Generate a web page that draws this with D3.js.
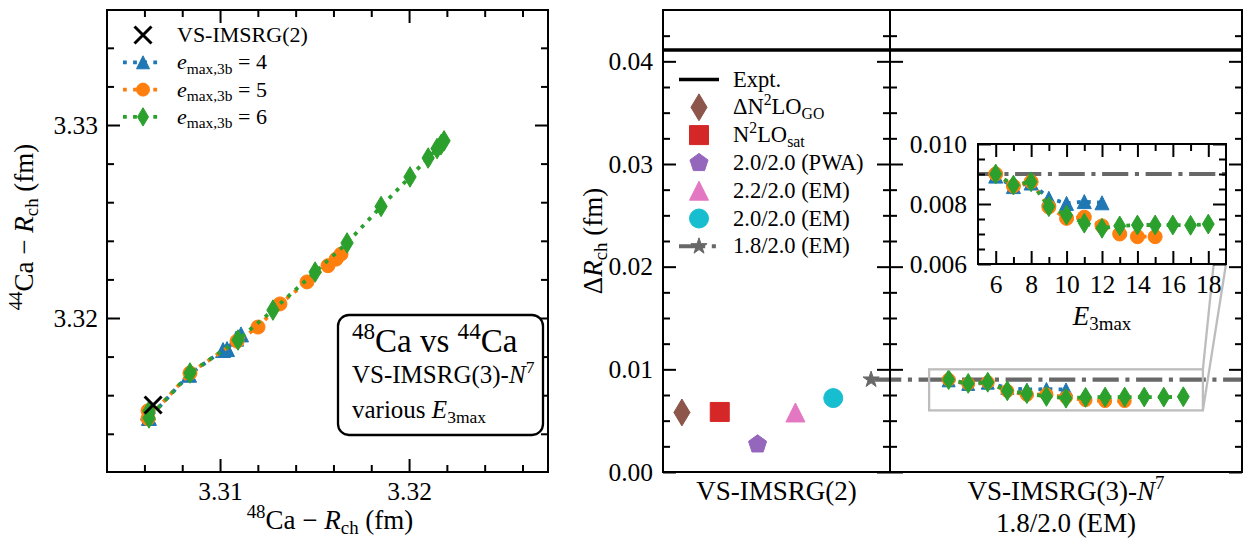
<!DOCTYPE html>
<html>
<head>
<meta charset="utf-8">
<script src="https://cdn.jsdelivr.net/npm/d3@7/dist/d3.min.js"></script>
<style>
  html, body { margin: 0; padding: 0; background: #fff; }
  svg text { font-family: "Liberation Serif", "Times New Roman", serif; fill: #000; }
</style>
</head>
<body>
<svg id="fig" width="1243" height="540"></svg>
<script>
// ---------------- data ----------------
// E3max values for the three emax,3b truncations
const e3maxB4 = [6, 7, 8, 9, 10, 11, 12];
const e3maxB5 = [6, 7, 8, 9, 10, 11, 12, 13, 14, 15];
const e3maxB6 = [6, 7, 8, 9, 10, 11, 12, 13, 14, 15, 16, 17, 18];

// charge radii (fm) of 48Ca and 44Ca, VS-IMSRG(3)-N7, 1.8/2.0 (EM)
const r48B4 = [3.30619, 3.30624, 3.30836, 3.31016, 3.31037, 3.31085, 3.31111];
const r44B4 = [3.31510, 3.31482, 3.31706, 3.31834, 3.31839, 3.31893, 3.31915];
const r48B5 = [3.30619, 3.30619, 3.30841, 3.31090, 3.31201, 3.31317, 3.31460, 3.31571, 3.31614, 3.31640];
const r44B5 = [3.31519, 3.31479, 3.31715, 3.31880, 3.31953, 3.32073, 3.32187, 3.32271, 3.32305, 3.32331];
const r48B6 = [3.30624, 3.30624, 3.30841, 3.31095, 3.31280, 3.31503, 3.31672, 3.31852, 3.32005, 3.32101, 3.32148, 3.32169, 3.32185];
const r44B6 = [3.31518, 3.31482, 3.31715, 3.31886, 3.32041, 3.32238, 3.32389, 3.32578, 3.32731, 3.32829, 3.32878, 3.32898, 3.32918];

// VS-IMSRG(2) reference point
const imsrg2R48 = 3.30646;
const imsrg2R44 = 3.31549;

// radius differences Delta R_ch (fm) vs E3max
const dRB4 = [0.00893, 0.00858, 0.00870, 0.00819, 0.00802, 0.00808, 0.00804];
const dRB5 = [0.00900, 0.00860, 0.00874, 0.00790, 0.00752, 0.00756, 0.00727, 0.00700, 0.00691, 0.00691];
const dRB6 = [0.00900, 0.00863, 0.00874, 0.00791, 0.00763, 0.00736, 0.00719, 0.00727, 0.00730, 0.00730, 0.00730, 0.00729, 0.00733];

// VS-IMSRG(2) results for the different interactions
const interactions = ["\u0394N2LO_GO", "N2LO_sat", "2.0/2.0 (PWA)", "2.2/2.0 (EM)", "2.0/2.0 (EM)", "1.8/2.0 (EM)"];
const imsrg2DR = [0.0058, 0.00585, 0.0027, 0.0058, 0.0072, 0.0090];
const exptDR = 0.0411;

// tick values
const ticksXA = [3.31, 3.32];
const ticksYA = [3.32, 3.33];
const ticksYR = [0, 0.01, 0.02, 0.03, 0.04];
const ticksXI = [6, 8, 10, 12, 14, 16, 18];
const ticksYI = [0.006, 0.008, 0.010];

// ---------------- setup ----------------
const svg = d3.select("#fig");
const FS = 25.5;      // tick labels
const AFS = 27;       // axis labels
const TMAJ = 13, TMIN = 7;
const col = {
  blue: "#1f77b4", orange: "#ff7f0e", green: "#2ca02c", brown: "#8c564b",
  red: "#d62728", purple: "#9467bd", pink: "#e377c2", cyan: "#17becf", grey: "#686868"
};

// scales
const xA = d3.scaleLinear().domain([3.30402, 3.32735]).range([107, 548]);
const yA = d3.scaleLinear().domain([3.31202, 3.33596]).range([472, 10]);
const xB = d3.scaleLinear().domain([0.5, 6.5]).range([663, 890]);
const yR = d3.scaleLinear().domain([0, 0.045]).range([472, 10]);
const xC = d3.scaleLinear().domain([3, 21]).range([890, 1242]);
const xI = d3.scaleLinear().domain([5, 19]).range([978, 1226]);
const yI = d3.scaleLinear().domain([0.006, 0.010]).range([264, 144]);

// ---------------- helpers ----------------
function mathText(g, x, y, parts, fs, anchor, rotate) {
  const t = g.append("text").attr("font-size", fs).attr("text-anchor", anchor || "start");
  if (rotate) t.attr("transform", `translate(${x},${y}) rotate(${rotate})`);
  else t.attr("x", x).attr("y", y);
  let shift = 0;
  parts.forEach(p => {
    const s = typeof p === "string" ? { t: p } : p;
    const target = s.sub ? 0.2 * fs : s.sup ? -0.4 * fs : 0;
    const ts = t.append("tspan").text(s.t);
    if (target - shift !== 0) ts.attr("dy", target - shift);
    shift = target;
    if (s.sub || s.sup) ts.attr("font-size", 0.7 * fs);
    if (s.it) ts.attr("font-style", "italic");
  });
  return t;
}

function polygonPath(n, r, inner) {
  const pts = [];
  const k = inner ? 2 * n : n;
  for (let i = 0; i < k; i++) {
    const a = -Math.PI / 2 + i * 2 * Math.PI / k;
    const rr = inner && i % 2 ? r * inner : r;
    pts.push([rr * Math.cos(a), rr * Math.sin(a)]);
  }
  return "M" + pts.map(p => p[0].toFixed(2) + "," + p[1].toFixed(2)).join("L") + "Z";
}

function markerPath(type, ms) {
  const h = ms / 2;
  switch (type) {
    case "tri": return `M0,${-h}L${-h},${h}L${h},${h}Z`;
    case "dia": { const a = 0.7071 * ms, b = 0.6 * a; return `M0,${-a}L${b},0L0,${a}L${-b},0Z`; }
    case "sq": return `M${-h},${-h}h${ms}v${ms}h${-ms}Z`;
    case "pent": return polygonPath(5, h);
    case "star": return polygonPath(5, h, 0.381966);
    case "circ": return `M${h},0A${h},${h} 0 1,1 ${-h},0A${h},${h} 0 1,1 ${h},0Z`;
    case "x": return `M${-h},${-h}L${h},${h}M${-h},${h}L${h},${-h}`;
  }
}

function marker(g, x, y, type, ms, color) {
  const p = g.append("path").attr("transform", `translate(${x},${y})`).attr("d", markerPath(type, ms));
  if (type === "x") p.attr("fill", "none").attr("stroke", color).attr("stroke-width", 3);
  else p.attr("fill", color).attr("stroke", color).attr("stroke-width", 1);
  return p;
}

function series(g, xs, ys, sx, sy, color, type, ms) {
  const pts = xs.map((x, i) => [sx(x), sy(ys[i])]);
  g.append("path").attr("d", d3.line()(pts)).attr("fill", "none")
    .attr("stroke", color).attr("stroke-width", 3.8).attr("stroke-dasharray", "3.8,6.3");
  g.selectAll(null).data(pts).join("path")
    .attr("transform", d => `translate(${d[0]},${d[1]})`)
    .attr("d", markerPath(type, ms))
    .attr("fill", color).attr("stroke", color).attr("stroke-width", 1);
}

function addAxis(g, gen, tx, ty, fs) {
  const a = g.append("g").attr("transform", `translate(${tx},${ty})`).call(gen);
  a.select(".domain").remove();
  a.attr("font-family", null).attr("font-size", fs || FS);
  a.selectAll(".tick line").attr("stroke-width", 2);
  return a;
}

function stepRange(a, b, step, majors) {
  const n = Math.round((b - a) / step);
  return d3.range(n + 1).map(i => +(a + i * step).toFixed(6))
    .filter(v => !majors.some(m => Math.abs(m - v) < step / 10));
}

const none = () => "";

// ---------------- panel A: 44Ca vs 48Ca radii ----------------
const gA = svg.append("g");
const minXA = stepRange(3.306, 3.326, 0.002, ticksXA);
const minYA = stepRange(3.314, 3.334, 0.002, ticksYA);
addAxis(gA, d3.axisBottom(xA).tickValues(minXA).tickSize(-TMIN).tickSizeOuter(0).tickFormat(none), 0, 472);
addAxis(gA, d3.axisBottom(xA).tickValues(ticksXA).tickSize(-TMAJ).tickSizeOuter(0).tickPadding(10).tickFormat(d3.format(".2f")), 0, 472);
addAxis(gA, d3.axisTop(xA).tickValues(minXA).tickSize(-TMIN).tickSizeOuter(0).tickFormat(none), 0, 10);
addAxis(gA, d3.axisTop(xA).tickValues(ticksXA).tickSize(-TMAJ).tickSizeOuter(0).tickFormat(none), 0, 10);
addAxis(gA, d3.axisLeft(yA).tickValues(minYA).tickSize(-TMIN).tickSizeOuter(0).tickFormat(none), 107, 0);
addAxis(gA, d3.axisLeft(yA).tickValues(ticksYA).tickSize(-TMAJ).tickSizeOuter(0).tickPadding(9).tickFormat(d3.format(".2f")), 107, 0);
addAxis(gA, d3.axisRight(yA).tickValues(minYA).tickSize(-TMIN).tickSizeOuter(0).tickFormat(none), 548, 0);
addAxis(gA, d3.axisRight(yA).tickValues(ticksYA).tickSize(-TMAJ).tickSizeOuter(0).tickFormat(none), 548, 0);

series(gA, r48B4, r44B4, xA, yA, col.blue, "tri", 15);
series(gA, r48B5, r44B5, xA, yA, col.orange, "circ", 14);
series(gA, r48B6, r44B6, xA, yA, col.green, "dia", 14.5);
marker(gA, xA(imsrg2R48), yA(imsrg2R44), "x", 17, "#000");

gA.append("rect").attr("x", 107).attr("y", 10).attr("width", 441).attr("height", 462)
  .attr("fill", "none").attr("stroke", "#000").attr("stroke-width", 2);

mathText(gA, 330, 529, [{ t: "48", sup: 1 }, "Ca \u2212 ", { t: "R", it: 1 }, { t: "ch", sub: 1 }, " (fm)"], AFS, "middle");
mathText(gA, 33, 227, [{ t: "44", sup: 1 }, "Ca \u2212 ", { t: "R", it: 1 }, { t: "ch", sub: 1 }, " (fm)"], AFS, "middle", -90);

// legend A
const legA = [
  { type: "x", color: "#000", line: false, label: ["VS-IMSRG(2)"] },
  { type: "tri", color: col.blue, line: true, label: [{ t: "e", it: 1 }, { t: "max,3b", sub: 1 }, " = 4"] },
  { type: "circ", color: col.orange, line: true, label: [{ t: "e", it: 1 }, { t: "max,3b", sub: 1 }, " = 5"] },
  { type: "dia", color: col.green, line: true, label: [{ t: "e", it: 1 }, { t: "max,3b", sub: 1 }, " = 6"] }
];
legA.forEach((d, i) => {
  const cy = 35 + i * 27.3;
  if (d.line) gA.append("line").attr("x1", 123).attr("x2", 163).attr("y1", cy).attr("y2", cy)
    .attr("stroke", d.color).attr("stroke-width", 3.8).attr("stroke-dasharray", "3.8,6.3");
  marker(gA, 143, cy, d.type, d.type === "x" ? 17 : 13, d.color);
  mathText(gA, 177, cy + 7, d.label, 22);
});

// annotation box
gA.append("rect").attr("x", 338).attr("y", 315).attr("width", 205).attr("height", 120).attr("rx", 11)
  .attr("fill", "#fff").attr("stroke", "#000").attr("stroke-width", 2.3);
mathText(gA, 352, 352, [{ t: "48", sup: 1 }, "Ca vs ", { t: "44", sup: 1 }, "Ca"], 33);
mathText(gA, 352, 383, ["VS-IMSRG(3)-", { t: "N", it: 1 }, { t: "7", sup: 1 }], 25);
mathText(gA, 352, 418, ["various ", { t: "E", it: 1 }, { t: "3max", sub: 1 }], 25);

// ---------------- panels B and C: Delta R_ch ----------------
const gR = svg.append("g");
const minYR = stepRange(0.0025, 0.0425, 0.0025, ticksYR);
// B ticks (left and right)
addAxis(gR, d3.axisLeft(yR).tickValues(minYR).tickSize(-TMIN).tickSizeOuter(0).tickFormat(none), 663, 0);
addAxis(gR, d3.axisLeft(yR).tickValues(ticksYR).tickSize(-TMAJ).tickSizeOuter(0).tickPadding(10).tickFormat(d3.format(".2f")), 663, 0);
addAxis(gR, d3.axisRight(yR).tickValues(minYR).tickSize(-TMIN).tickSizeOuter(0).tickFormat(none), 890, 0);
addAxis(gR, d3.axisRight(yR).tickValues(ticksYR).tickSize(-TMAJ).tickSizeOuter(0).tickFormat(none), 890, 0);
// C ticks (left and right)
addAxis(gR, d3.axisLeft(yR).tickValues(minYR).tickSize(-TMIN).tickSizeOuter(0).tickFormat(none), 890, 0);
addAxis(gR, d3.axisLeft(yR).tickValues(ticksYR).tickSize(-TMAJ).tickSizeOuter(0).tickFormat(none), 890, 0);
addAxis(gR, d3.axisRight(yR).tickValues(minYR).tickSize(-TMIN).tickSizeOuter(0).tickFormat(none), 1242, 0);
addAxis(gR, d3.axisRight(yR).tickValues(ticksYR).tickSize(-TMAJ).tickSizeOuter(0).tickFormat(none), 1242, 0);

// experiment
gR.append("line").attr("x1", 663).attr("x2", 1242).attr("y1", yR(exptDR)).attr("y2", yR(exptDR))
  .attr("stroke", "#000").attr("stroke-width", 3.6);

// 1.8/2.0 (EM) VS-IMSRG(2) reference line through panel C
const emIdx = interactions.length - 1;
gR.append("line").attr("x1", xB(emIdx + 1)).attr("x2", 1242)
  .attr("y1", yR(imsrg2DR[emIdx])).attr("y2", yR(imsrg2DR[emIdx]))
  .attr("stroke", col.grey).attr("stroke-width", 4.1).attr("stroke-dasharray", "26.2,6.6,4.1,6.6")
  .attr("stroke-dashoffset", -4);

// VS-IMSRG(2) points
const shapesB = ["dia", "sq", "pent", "tri", "circ", "star"];
const colorsB = [col.brown, col.red, col.purple, col.pink, col.cyan, col.grey];
const sizesB = [19, 19, 19, 19, 19, 17];
imsrg2DR.forEach((v, i) => marker(gR, xB(i + 1), yR(v), shapesB[i], sizesB[i], colorsB[i]));

// VS-IMSRG(3)-N7 convergence in panel C
series(gR, e3maxB4, dRB4, xC, yR, col.blue, "tri", 13);
series(gR, e3maxB5, dRB5, xC, yR, col.orange, "circ", 13);
series(gR, e3maxB6, dRB6, xC, yR, col.green, "dia", 14);

// frames
gR.append("rect").attr("x", 663).attr("y", 10).attr("width", 227).attr("height", 462)
  .attr("fill", "none").attr("stroke", "#000").attr("stroke-width", 2);
gR.append("rect").attr("x", 890).attr("y", 10).attr("width", 352).attr("height", 462)
  .attr("fill", "none").attr("stroke", "#000").attr("stroke-width", 2);

// zoom indicator and connectors
const zx0 = xC(5), zx1 = xC(19), zy0 = yR(0.010), zy1 = yR(0.006);
const indCol = "#bdbdbd";
gR.append("rect").attr("x", zx0).attr("y", zy0).attr("width", zx1 - zx0).attr("height", zy1 - zy0)
  .attr("fill", "none").attr("stroke", indCol).attr("stroke-width", 2.3);
gR.append("line").attr("x1", zx1).attr("y1", zy0).attr("x2", 1226).attr("y2", 144)
  .attr("stroke", indCol).attr("stroke-width", 2.3);
gR.append("line").attr("x1", zx1).attr("y1", zy1).attr("x2", 1226).attr("y2", 264)
  .attr("stroke", indCol).attr("stroke-width", 2.3);

// labels
mathText(gR, 602, 241, ["\u0394", { t: "R", it: 1 }, { t: "ch", sub: 1 }, " (fm)"], AFS, "middle", -90);
mathText(gR, 776.5, 500, ["VS-IMSRG(2)"], AFS, "middle");
mathText(gR, 1066, 500, ["VS-IMSRG(3)-", { t: "N", it: 1 }, { t: "7", sup: 1 }], AFS, "middle");
mathText(gR, 1066, 532, ["1.8/2.0 (EM)"], AFS, "middle");

// legend B
const legLabels = [
  ["Expt."],
  ["\u0394N", { t: "2", sup: 1 }, "LO", { t: "GO", sub: 1 }],
  ["N", { t: "2", sup: 1 }, "LO", { t: "sat", sub: 1 }],
  [interactions[2]], [interactions[3]], [interactions[4]], [interactions[5]]
];
legLabels.forEach((lab, i) => {
  const cy = 79.5 + i * 27.8;
  if (i === 0) {
    gR.append("line").attr("x1", 679).attr("x2", 719).attr("y1", cy).attr("y2", cy)
      .attr("stroke", "#000").attr("stroke-width", 3.6);
  } else {
    const k = i - 1;
    if (k === emIdx) gR.append("line").attr("x1", 679).attr("x2", 719).attr("y1", cy).attr("y2", cy)
      .attr("stroke", col.grey).attr("stroke-width", 4.1).attr("stroke-dasharray", "26.2,6.6,4.1,6.6");
    marker(gR, 699, cy, shapesB[k], sizesB[k], colorsB[k]);
  }
  mathText(gR, 733, cy + 7, lab, 22.5);
});

// ---------------- inset ----------------
const gI = svg.append("g");
gI.append("rect").attr("x", 978).attr("y", 144).attr("width", 248).attr("height", 120).attr("fill", "#fff");
gI.append("line").attr("x1", 978).attr("x2", 1226)
  .attr("y1", yI(imsrg2DR[emIdx])).attr("y2", yI(imsrg2DR[emIdx]))
  .attr("stroke", col.grey).attr("stroke-width", 4.1).attr("stroke-dasharray", "26.2,6.6,4.1,6.6")
  .attr("stroke-dashoffset", 6.4);
series(gI, e3maxB4, dRB4, xI, yI, col.blue, "tri", 14);
series(gI, e3maxB5, dRB5, xI, yI, col.orange, "circ", 14);
series(gI, e3maxB6, dRB6, xI, yI, col.green, "dia", 14);

const minXI = [7, 9, 11, 13, 15, 17];
const minYI = stepRange(0.0065, 0.0095, 0.0005, ticksYI);
addAxis(gI, d3.axisBottom(xI).tickValues(minXI).tickSize(-TMIN).tickSizeOuter(0).tickFormat(none), 0, 264);
addAxis(gI, d3.axisBottom(xI).tickValues(ticksXI).tickSize(-TMAJ).tickSizeOuter(0).tickPadding(11).tickFormat(d3.format("d")), 0, 264);
addAxis(gI, d3.axisTop(xI).tickValues(minXI).tickSize(-TMIN).tickSizeOuter(0).tickFormat(none), 0, 144);
addAxis(gI, d3.axisTop(xI).tickValues(ticksXI).tickSize(-TMAJ).tickSizeOuter(0).tickFormat(none), 0, 144);
addAxis(gI, d3.axisLeft(yI).tickValues(minYI).tickSize(-TMIN).tickSizeOuter(0).tickFormat(none), 978, 0);
addAxis(gI, d3.axisLeft(yI).tickValues(ticksYI).tickSize(-TMAJ).tickSizeOuter(0).tickPadding(11).tickFormat(d3.format(".3f")), 978, 0);
addAxis(gI, d3.axisRight(yI).tickValues(minYI).tickSize(-TMIN).tickSizeOuter(0).tickFormat(none), 1226, 0);
addAxis(gI, d3.axisRight(yI).tickValues(ticksYI).tickSize(-TMAJ).tickSizeOuter(0).tickFormat(none), 1226, 0);
gI.append("rect").attr("x", 978).attr("y", 144).attr("width", 248).attr("height", 120)
  .attr("fill", "none").attr("stroke", "#000").attr("stroke-width", 2);
mathText(gI, 1102, 325, [{ t: "E", it: 1 }, { t: "3max", sub: 1 }], AFS, "middle");
</script>
</body>
</html>
